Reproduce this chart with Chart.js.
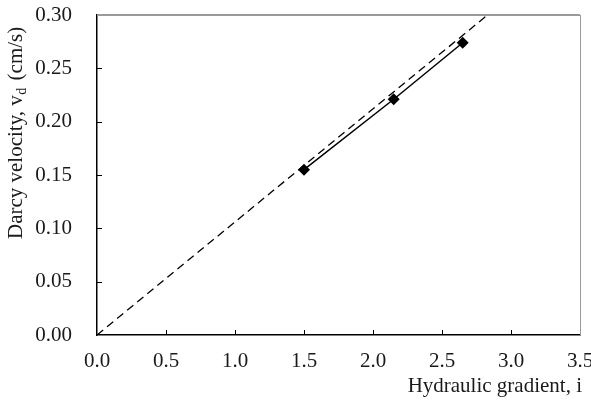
<!DOCTYPE html>
<html>
<head>
<meta charset="utf-8">
<script src="https://cdn.jsdelivr.net/npm/chart.js@4"></script>
<style>
  html, body { margin: 0; padding: 0; background: #fff; }
  #wrap { width: 591px; height: 400px; position: relative; }
</style>
</head>
<body>
<div id="wrap"><canvas id="darcyChart"></canvas></div>
<script>
/* ================= DATA ================= */
const gradient = [1.5, 2.15, 2.65];          // hydraulic gradient, i
const velocity = [0.155, 0.221, 0.274];      // Darcy velocity (cm/s)
const refLineX = [0, 2.83];                  // dashed reference line
const refLineY = [0, 0.30];
const xTicks = [0, 0.5, 1.0, 1.5, 2.0, 2.5, 3.0, 3.5];
const yTicks = [0, 0.05, 0.10, 0.15, 0.20, 0.25, 0.30];

const FONT = '"Liberation Serif", "Times New Roman", serif';
const INK = '#1a1a1a';

/* ================= FRAME, INWARD TICKS, TITLES ================= */
const framePlugin = {
  id: 'frame',
  afterDraw(chart) {
    const { ctx, chartArea: a, scales: { x, y } } = chart;
    ctx.save();

    // top + right border (grey)
    ctx.strokeStyle = '#9a9a9a';
    ctx.lineWidth = 2;
    ctx.beginPath();
    ctx.moveTo(a.left, a.top);
    ctx.lineTo(a.right, a.top);
    ctx.stroke();
    ctx.lineWidth = 1;
    ctx.beginPath();
    ctx.moveTo(a.right + 0.5, a.top);
    ctx.lineTo(a.right + 0.5, a.bottom);
    ctx.stroke();

    // inward tick marks
    ctx.strokeStyle = '#000';
    ctx.lineWidth = 1;
    ctx.beginPath();
    xTicks.slice(1, -1).forEach(v => {
      const px = Math.round(x.getPixelForValue(v)) + 0.5;
      ctx.moveTo(px, a.bottom);
      ctx.lineTo(px, a.bottom - 5);
    });
    yTicks.slice(1, -1).forEach(v => {
      const py = Math.round(y.getPixelForValue(v)) + 0.5;
      ctx.moveTo(a.left, py);
      ctx.lineTo(a.left + 5, py);
    });
    ctx.stroke();

    // axis titles
    ctx.fillStyle = INK;
    ctx.font = '21px ' + FONT;
    ctx.textAlign = 'right';
    ctx.textBaseline = 'alphabetic';
    ctx.fillText('Hydraulic gradient, i', 582, 392);

    // y title with subscript d
    ctx.save();
    ctx.translate(22, 239);
    ctx.rotate(-Math.PI / 2);
    ctx.textAlign = 'left';
    let cx = 0;
    const part1 = 'Darcy velocity, v';
    ctx.font = '21px ' + FONT;
    ctx.fillText(part1, cx, 0);
    cx += ctx.measureText(part1).width + 0.5;
    ctx.font = '14px ' + FONT;
    ctx.fillText('d', cx, 4);
    cx += ctx.measureText('d').width + 2;
    ctx.font = '21px ' + FONT;
    ctx.fillText(' (cm/s)', cx, 0);
    ctx.restore();

    ctx.restore();
  }
};

/* ================= CHART ================= */
const darcyChart = new Chart(
  document.getElementById('darcyChart'),
  {
    type: 'scatter',
    data: {
      datasets: [
        {
          label: 'Reference',
          data: refLineX.map((v, i) => ({ x: v, y: refLineY[i] })),
          showLine: true,
          borderColor: '#000',
          borderWidth: 1.3,
          borderDash: [8, 5],
          pointRadius: 0
        },
        {
          label: 'Measured',
          data: gradient.map((v, i) => ({ x: v, y: velocity[i] })),
          showLine: true,
          borderColor: '#000',
          borderWidth: 1.5,
          backgroundColor: '#000',
          pointStyle: 'rectRot',
          pointRadius: 6,
          pointBorderWidth: 0
        }
      ]
    },
    options: {
      responsive: true,
      maintainAspectRatio: false,
      animation: false,
      layout: { padding: { top: 15, right: 11, left: 0, bottom: 0 } },
      plugins: {
        legend: { display: false },
        tooltip: { enabled: false }
      },
      scales: {
        x: {
          type: 'linear',
          min: 0,
          max: 3.5,
          grid: { display: false, drawTicks: false },
          border: { display: true, color: '#000', width: 1.5 },
          afterBuildTicks: s => { s.ticks = xTicks.map(v => ({ value: v })); },
          afterFit: s => { s.height = 65; s.paddingLeft = 0; s.paddingRight = 0; },
          ticks: {
            padding: 14,
            color: INK,
            font: { family: FONT, size: 21 },
            callback: v => v.toFixed(1)
          }
        },
        y: {
          type: 'linear',
          min: 0,
          max: 0.30,
          grid: { display: false, drawTicks: false },
          border: { display: true, color: '#000', width: 1.5 },
          afterBuildTicks: s => { s.ticks = yTicks.map(v => ({ value: v })); },
          afterFit: s => { s.width = 97; s.paddingTop = 0; s.paddingBottom = 0; },
          ticks: {
            padding: 25,
            color: INK,
            font: { family: FONT, size: 21 },
            callback: v => v.toFixed(2)
          }
        }
      }
    },
    plugins: [framePlugin]
  }
);

window.addEventListener('resize', () => {
  darcyChart.resize();
});
</script>
</body>
</html>
